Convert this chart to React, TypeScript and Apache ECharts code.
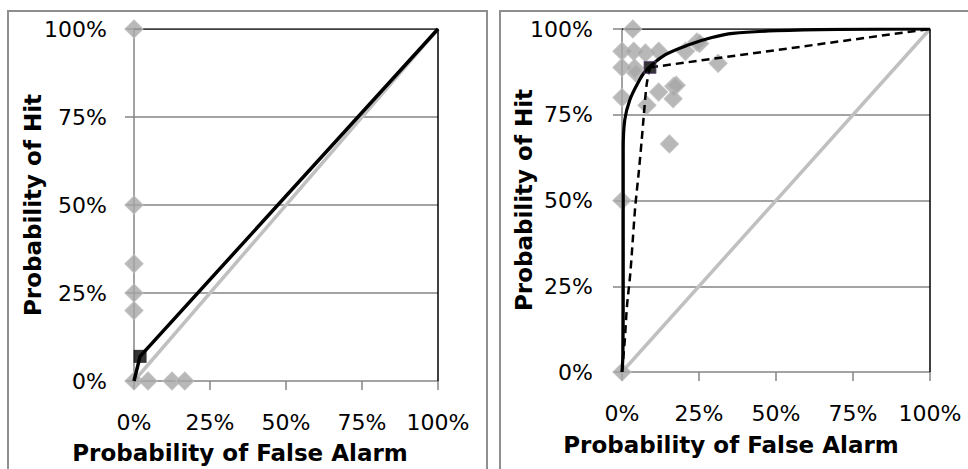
import React, { useEffect, useRef } from "react";
import * as echarts from "echarts";

// ---- data ----
const DIAGONAL = [[0, 0], [1, 1]];
const FRAME = [[0, 1], [1, 1], [1, 0]];

// Left chart
const LEFT_LINE = [[0, 0], [0.02, 0.07], [1, 1]];
const LEFT_SQUARE = [[0.02, 0.07]];
const LEFT_POINTS = [
  [0, 1], [0, 0.5], [0, 0.333], [0, 0.25], [0, 0.2], [0, 0],
  [0.046, 0], [0.125, 0], [0.167, 0],
];

// Right chart
const RIGHT_POINTS = [
  [0.035, 1.0], [0, 0.935], [0.038, 0.935], [0.076, 0.93], [0.119, 0.935],
  [0, 0.888], [0.041, 0.886], [0.045, 0.872], [0.206, 0.935], [0.243, 0.962],
  [0.252, 0.958], [0.312, 0.9], [0, 0.8], [0.081, 0.778], [0.119, 0.816],
  [0.168, 0.833], [0.176, 0.836], [0.166, 0.797], [0.154, 0.665], [0, 0.5], [0, 0],
];
const RIGHT_SOLID = [
  [0, 0], [0.003, 0.05], [0.004, 0.25], [0.004, 0.5], [0.004, 0.65], [0.009, 0.735],
  [0.025, 0.792], [0.049, 0.838], [0.076, 0.877], [0.141, 0.925], [0.217, 0.954],
  [0.292, 0.975], [0.36, 0.987], [0.5, 0.995], [0.7, 0.999], [1, 1],
];
const RIGHT_DASHED = [
  [0, 0], [0.009, 0.093], [0.016, 0.19], [0.027, 0.288], [0.035, 0.385], [0.043, 0.482],
  [0.054, 0.579], [0.064, 0.676], [0.07, 0.74], [0.08, 0.838], [0.091, 0.888],
];
const RIGHT_DASHED_TAIL = [[0.091, 0.888], [1, 1]];
const RIGHT_SQUARE = [[0.091, 0.888]];

const X_TITLE = "Probability of False Alarm";
const Y_TITLE = "Probability of Hit";

const FONT = "'DejaVu Sans', sans-serif";
const GRID_C = "#858585";
const DIAMOND_C = "#a6a6a6";
const DIAG_C = "#c0c0c0";

const pct = (v: number) => Math.round(v * 100) + "%";

function xAxis(i: number, margin: number) {
  return {
    type: "value", gridIndex: i, min: 0, max: 1, interval: 0.25,
    axisLine: { show: true, onZero: false, lineStyle: { color: GRID_C, width: 1.5 } },
    axisTick: { show: true, inside: false, length: 9, lineStyle: { color: GRID_C, width: 1.5 } },
    axisLabel: { formatter: pct, color: "#000", fontFamily: FONT, fontSize: 22, margin },
    splitLine: { show: false },
  };
}
function yAxis(i: number, margin: number) {
  return {
    type: "value", gridIndex: i, min: 0, max: 1, interval: 0.25,
    axisLine: { show: true, onZero: false, lineStyle: { color: GRID_C, width: 1.5 } },
    axisTick: { show: true, inside: false, length: 9, lineStyle: { color: GRID_C, width: 1.5 } },
    axisLabel: { formatter: pct, color: "#000", fontFamily: FONT, fontSize: 22, margin },
    splitLine: { show: true, showMinLine: false, showMaxLine: false, lineStyle: { color: GRID_C, width: 1.5 } },
  };
}

function panelSeries(i: number) {
  return [
    {
      type: "line", xAxisIndex: i, yAxisIndex: i, data: DIAGONAL, symbol: "none", silent: true,
      lineStyle: { color: DIAG_C, width: 3.5 }, z: 2,
    },
    {
      type: "line", xAxisIndex: i, yAxisIndex: i, data: FRAME, symbol: "none", silent: true,
      lineStyle: { color: "#000", width: 1.5 }, z: 2,
    },
  ];
}

function titleText(x: number, y: number, rot: number) {
  return {
    type: "text", x, y, rotation: rot,
    style: {
      text: rot ? Y_TITLE : X_TITLE,
      font: `bold 23px ${FONT}`, fill: "#000",
      textAlign: "center", textVerticalAlign: "middle", align: "center", verticalAlign: "middle",
    },
  };
}

export default function App() {
  const ref = useRef<HTMLDivElement>(null);
  useEffect(() => {
    if (!ref.current) return;
    const chart = echarts.init(ref.current, undefined, { renderer: "svg" });
    const option = {
      animation: false,
      backgroundColor: "#fff",
      grid: [
        { left: 134, top: 29, width: 304, height: 352 },
        { left: 622, top: 29, width: 308, height: 343 },
      ],
      xAxis: [xAxis(0, 30), xAxis(1, 30)],
      yAxis: [yAxis(0, 27), yAxis(1, 29)],
      series: [
        ...panelSeries(0),
        ...panelSeries(1),
        {
          type: "scatter", xAxisIndex: 0, yAxisIndex: 0, data: LEFT_POINTS, symbol: "diamond", symbolSize: 18,
          itemStyle: { color: DIAMOND_C, borderColor: "#bdbdbd", borderWidth: 1.2 }, z: 3,
        },
        {
          type: "scatter", xAxisIndex: 1, yAxisIndex: 1, data: RIGHT_POINTS, symbol: "diamond", symbolSize: 18,
          itemStyle: { color: DIAMOND_C, borderColor: "#bdbdbd", borderWidth: 1.2 }, z: 3,
        },
        {
          type: "line", xAxisIndex: 0, yAxisIndex: 0, data: LEFT_LINE, symbol: "none",
          lineStyle: { color: "#000", width: 3.5 }, z: 4,
        },
        {
          type: "line", xAxisIndex: 1, yAxisIndex: 1, data: RIGHT_SOLID, symbol: "none", smooth: 0.3,
          lineStyle: { color: "#000", width: 3.2 }, z: 4,
        },
        {
          type: "line", xAxisIndex: 1, yAxisIndex: 1, data: RIGHT_DASHED, symbol: "none", smooth: 0.3,
          lineStyle: { color: "#000", width: 2.5, type: [8, 5] }, z: 4,
        },
        {
          type: "line", xAxisIndex: 1, yAxisIndex: 1, data: RIGHT_DASHED_TAIL, symbol: "none",
          lineStyle: { color: "#000", width: 2.5, type: [8, 5] }, z: 4,
        },
        {
          type: "scatter", xAxisIndex: 0, yAxisIndex: 0, data: LEFT_SQUARE, symbol: "rect", symbolSize: 13,
          itemStyle: { color: "#000" }, z: 5,
        },
        {
          type: "scatter", xAxisIndex: 1, yAxisIndex: 1, data: RIGHT_SQUARE, symbol: "rect", symbolSize: 12,
          itemStyle: { color: "#000", borderColor: "#604a7b", borderWidth: 1 }, z: 5,
        },
      ],
      graphic: [
        { type: "rect", shape: { x: 8, y: 11, width: 479, height: 500 }, style: { fill: "none", stroke: "#8f8f8f", lineWidth: 2 }, silent: true },
        { type: "rect", shape: { x: 500, y: 11, width: 500, height: 500 }, style: { fill: "none", stroke: "#8f8f8f", lineWidth: 2 }, silent: true },
        titleText(240, 453, 0),
        titleText(33, 205, Math.PI / 2),
        titleText(731, 445, 0),
        titleText(524, 200, Math.PI / 2),
      ],
    };
    chart.setOption(option as any);
    return () => chart.dispose();
  }, []);
  return (
    <div
      ref={ref}
      style={{ position: "absolute", left: 0, top: 0, width: 968, height: 469 }}
    />
  );
}
